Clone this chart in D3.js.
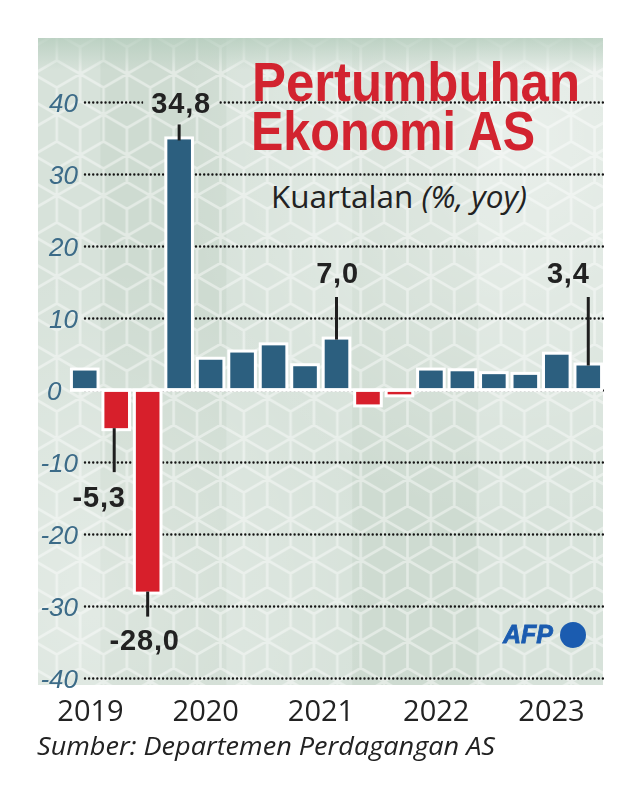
<!DOCTYPE html>
<html>
<head>
<meta charset="utf-8">
<script src="https://cdn.jsdelivr.net/npm/d3@7"></script>
<style>
  html, body { margin: 0; padding: 0; background: #ffffff; }
  svg { display: block; }
</style>
</head>
<body>
<div id="chart"></div>
<script>
// ---- data ----
const categories = ["Q4 2019","Q1 2020","Q2 2020","Q3 2020","Q4 2020",
  "Q1 2021","Q2 2021","Q3 2021","Q4 2021",
  "Q1 2022","Q2 2022","Q3 2022","Q4 2022",
  "Q1 2023","Q2 2023","Q3 2023","Q4 2023"];
const growth = [2.7, -5.3, -28.0, 34.8, 4.2, 5.2, 6.2, 3.3, 7.0, -2.0, -0.6, 2.7, 2.6, 2.2, 2.1, 4.9, 3.4];
const yTicks = [-40, -30, -20, -10, 0, 10, 20, 30, 40];
const yearLabels = ["2019", "2020", "2021", "2022", "2023"];
const shadedYears = ["2020", "2022"];
const annotationCats = ["Q3 2020", "Q4 2021", "Q4 2023", "Q1 2020", "Q2 2020"];
const annotationTexts = ["34,8", "7,0", "3,4", "-5,3", "-28,0"];
const titleLines = ["Pertumbuhan", "Ekonomi AS"];
const subtitle = ["Kuartalan ", "(%, yoy)"];
const sourceText = "Sumber: Departemen Perdagangan AS";

// ---- setup ----
const W = 643, H = 789;
const svg = d3.select("#chart").append("svg").attr("width", W).attr("height", H);
const defs = svg.append("defs");

const panel = { x0: 38, x1: 603, y0: 38, y1: 685 };
const gridX0 = 85;

const x = d3.scaleBand().domain(categories).range([69, 604]).paddingInner(0.25).paddingOuter(0.125);
const y = d3.scaleLinear().domain([-40, 40]).range([678, 102]);
const xYear = d3.scalePoint().domain(yearLabels).range([90, 551]);

// ---- pattern (tumbling blocks) ----
const r = 27, pw = Math.sqrt(3) * r, ph = 3 * r;
const pat = defs.append("pattern").attr("id", "hex").attr("patternUnits", "userSpaceOnUse")
  .attr("width", pw).attr("height", ph).attr("x", 10).attr("y", 20);
const centers = [[pw/2, r], [0, 2.5*r], [pw, 2.5*r], [0, -0.5*r], [pw, -0.5*r], [pw/2, 4*r], [pw/2, -2*r]];
let pd = "";
centers.forEach(([cx, cy]) => {
  const v = d3.range(6).map(k => {
    const a = (-90 + 60 * k) * Math.PI / 180;
    return [cx + r * Math.cos(a), cy + r * Math.sin(a)];
  });
  pd += "M" + v.map(p => p.join(",")).join("L") + "Z";
  [3, 5, 1].forEach(k => { pd += `M${cx},${cy}L${v[k][0]},${v[k][1]}`; });
});
pat.append("path").attr("d", pd).attr("fill", "none").attr("stroke", "#ffffff")
  .attr("stroke-opacity", 0.42).attr("stroke-width", 2.6);

// gradients
const gTop = defs.append("linearGradient").attr("id", "gTop").attr("x1", 0).attr("x2", 0).attr("y1", 0).attr("y2", 1);
gTop.append("stop").attr("offset", "0%").attr("stop-color", "#b5cdbd").attr("stop-opacity", 0.8);
gTop.append("stop").attr("offset", "5%").attr("stop-color", "#b5cdbd").attr("stop-opacity", 0);
const gR = defs.append("radialGradient").attr("id", "gR").attr("cx", "0.85").attr("cy", "0.15").attr("r", "0.6");
gR.append("stop").attr("offset", "0%").attr("stop-color", "#ffffff").attr("stop-opacity", 0.45);
gR.append("stop").attr("offset", "100%").attr("stop-color", "#ffffff").attr("stop-opacity", 0);
const gL = defs.append("radialGradient").attr("id", "gL").attr("cx", "0.1").attr("cy", "0.85").attr("r", "0.5");
gL.append("stop").attr("offset", "0%").attr("stop-color", "#ffffff").attr("stop-opacity", 0.3);
gL.append("stop").attr("offset", "100%").attr("stop-color", "#ffffff").attr("stop-opacity", 0);

// ---- background panel ----
const pwid = panel.x1 - panel.x0, phei = panel.y1 - panel.y0;
svg.append("rect").attr("x", panel.x0).attr("y", panel.y0).attr("width", pwid).attr("height", phei).attr("fill", "#d7e2da");
const step = x.step(), gapHalf = x.paddingInner() * step / 2;
shadedYears.forEach(yr => {
  const qs = categories.filter(c => c.endsWith(yr));
  const xa = x(qs[0]) - gapHalf, xb = x(qs[qs.length - 1]) + x.bandwidth() + gapHalf;
  svg.append("rect").attr("x", xa).attr("y", panel.y0).attr("width", xb - xa).attr("height", phei)
    .attr("fill", "#c6d5ca").attr("opacity", 0.55);
});
svg.append("rect").attr("x", panel.x0).attr("y", panel.y0).attr("width", pwid).attr("height", phei).attr("fill", "url(#gR)");
svg.append("rect").attr("x", panel.x0).attr("y", panel.y0).attr("width", pwid).attr("height", phei).attr("fill", "url(#gL)");
svg.append("rect").attr("x", panel.x0).attr("y", panel.y0).attr("width", pwid).attr("height", phei).attr("fill", "url(#hex)");
svg.append("rect").attr("x", panel.x0).attr("y", panel.y0).attr("width", pwid).attr("height", phei).attr("fill", "url(#gTop)");

// ---- title ----
const title = svg.append("g");
title.append("text").attr("x", 252).attr("y", 101).text(titleLines[0])
  .attr("font-family", "Liberation Sans, Arial, sans-serif").attr("font-weight", 700).attr("font-size", 56)
  .attr("fill", "#d2232f").attr("textLength", 328).attr("lengthAdjust", "spacingAndGlyphs");
title.append("text").attr("x", 251).attr("y", 150).text(titleLines[1])
  .attr("font-family", "Liberation Sans, Arial, sans-serif").attr("font-weight", 700).attr("font-size", 56)
  .attr("fill", "#d2232f").attr("textLength", 284).attr("lengthAdjust", "spacingAndGlyphs");
const sub = title.append("text").attr("x", 271).attr("y", 208)
  .attr("font-family", "Open Sans, sans-serif").attr("font-size", 31).attr("fill", "#222")
  .attr("textLength", 256).attr("lengthAdjust", "spacingAndGlyphs");
sub.append("tspan").text(subtitle[0]);
sub.append("tspan").attr("font-style", "italic").text(subtitle[1]);

// ---- grid mask (gap around top label), in the axis group's coordinates ----
const mask = defs.append("mask").attr("id", "gridMask").attr("maskUnits", "userSpaceOnUse")
  .attr("x", -200).attr("y", -200).attr("width", W + 400).attr("height", H + 400);
mask.append("rect").attr("x", -200).attr("y", -200).attr("width", W + 400).attr("height", H + 400).attr("fill", "#fff");
const topIdx = categories.indexOf(annotationCats[0]);
const topCx = x(annotationCats[0]) + x.bandwidth() / 2;
mask.append("rect").attr("x", topCx - 36 - gridX0).attr("y", y(growth[topIdx]) - 55)
  .attr("width", 76).attr("height", 36).attr("fill", "#000");

// ---- y axis + grid ----
const yAxis = d3.axisLeft(y).tickValues(yTicks).tickSize(-(panel.x1 - gridX0)).tickPadding(7).tickFormat(d => String(d));
const yg = svg.append("g").attr("transform", `translate(${gridX0},0)`).attr("mask", "url(#gridMask)").call(yAxis);
yg.select(".domain").remove();
yg.selectAll(".tick line").attr("stroke", "#151515").attr("stroke-width", 2.4)
  .attr("stroke-linecap", "round").attr("stroke-dasharray", "0.01,4.1");
yg.selectAll(".tick text").attr("font-family", "Liberation Sans, Arial, sans-serif").attr("font-style", "italic")
  .attr("font-size", 26).attr("fill", "#3c6b88").attr("dy", "0.38em");
yg.selectAll(".tick text").filter(d => d === 0).attr("text-anchor", "start").attr("x", 47 - gridX0);

// ---- bars ----
const data = categories.map((c, i) => ({ c, v: growth[i] }));
const barTop = d => d.v >= 0 ? y(d.v) : y(0) + 1.7;
const barBot = d => d.v >= 0 ? y(0) - 1.7 : y(d.v);
svg.append("g").selectAll("rect").data(data).join("rect")
  .attr("x", d => x(d.c) - 3).attr("y", d => barTop(d) - 3)
  .attr("width", x.bandwidth() + 6).attr("height", d => barBot(d) - barTop(d) + 6).attr("fill", "#fff");
svg.append("g").selectAll("rect").data(data).join("rect")
  .attr("x", d => x(d.c)).attr("y", barTop)
  .attr("width", x.bandwidth()).attr("height", d => barBot(d) - barTop(d))
  .attr("fill", d => d.v >= 0 ? "#2c5f7f" : "#d71f2b");
svg.append("rect").attr("x", 70).attr("y", y(0) - 1.7).attr("width", panel.x1 - 70).attr("height", 3.4).attr("fill", "#fff");

// ---- annotations ----
const annLayout = {
  "34,8": { dx: 2, lineA: 1, lineB: -15, base: v => y(v) - 26 },
  "7,0":  { dx: 1, lineA: 0, lineB: null, fixed: 297, base: () => 283 },
  "3,4":  { dx: -20, lineA: 0, lineB: null, fixed: 297, base: () => 283 },
  "-5,3": { dx: -17, lineA: 0, lineB: 44, base: v => y(v) + 79, lineDx: -2 },
  "-28,0":{ dx: -3, lineA: 0, lineB: 25, base: v => y(v) + 58 }
};
const ann = svg.append("g");
annotationCats.forEach((c, k) => {
  const i = categories.indexOf(c), v = growth[i], t = annotationTexts[k], L = annLayout[t];
  const cx = x(c) + x.bandwidth() / 2;
  const lx = cx + (L.lineDx || 0);
  const ya = y(v) + L.lineA;
  const yb = L.lineB === null ? L.fixed : y(v) + L.lineB;
  ann.append("line").attr("x1", lx).attr("x2", lx).attr("y1", ya).attr("y2", yb)
    .attr("stroke", "#1e1e1e").attr("stroke-width", 3);
  ann.append("text").attr("x", cx + L.dx).attr("y", L.base(v)).attr("text-anchor", "middle")
    .attr("font-family", "Liberation Sans, Arial, sans-serif").attr("font-weight", 700)
    .attr("font-size", 29).attr("letter-spacing", 0.8).attr("fill", "#222").text(t);
});

// ---- AFP logo ----
svg.append("text").attr("x", 503).attr("y", 643).text("AFP")
  .attr("font-family", "Liberation Sans, Arial, sans-serif").attr("font-weight", 700).attr("font-style", "italic")
  .attr("font-size", 25).attr("fill", "#1b5cb0").attr("stroke", "#1b5cb0").attr("stroke-width", 0.8)
  .attr("textLength", 50).attr("lengthAdjust", "spacingAndGlyphs");
svg.append("circle").attr("cx", 573).attr("cy", 635).attr("r", 13).attr("fill", "#1b5cb0");

// ---- x axis (years) ----
const xAxis = d3.axisBottom(xYear).tickSize(0).tickPadding(0);
const xg = svg.append("g").call(xAxis);
xg.select(".domain").remove();
xg.selectAll(".tick text").attr("y", 721).attr("dy", 0)
  .attr("font-family", "Open Sans, sans-serif").attr("font-size", 29).attr("fill", "#222");

// ---- source ----
svg.append("text").attr("x", 37).attr("y", 755).text(sourceText)
  .attr("font-family", "Open Sans, sans-serif").attr("font-style", "italic").attr("font-size", 25)
  .attr("fill", "#222").attr("textLength", 458).attr("lengthAdjust", "spacingAndGlyphs");
</script>
</body>
</html>
